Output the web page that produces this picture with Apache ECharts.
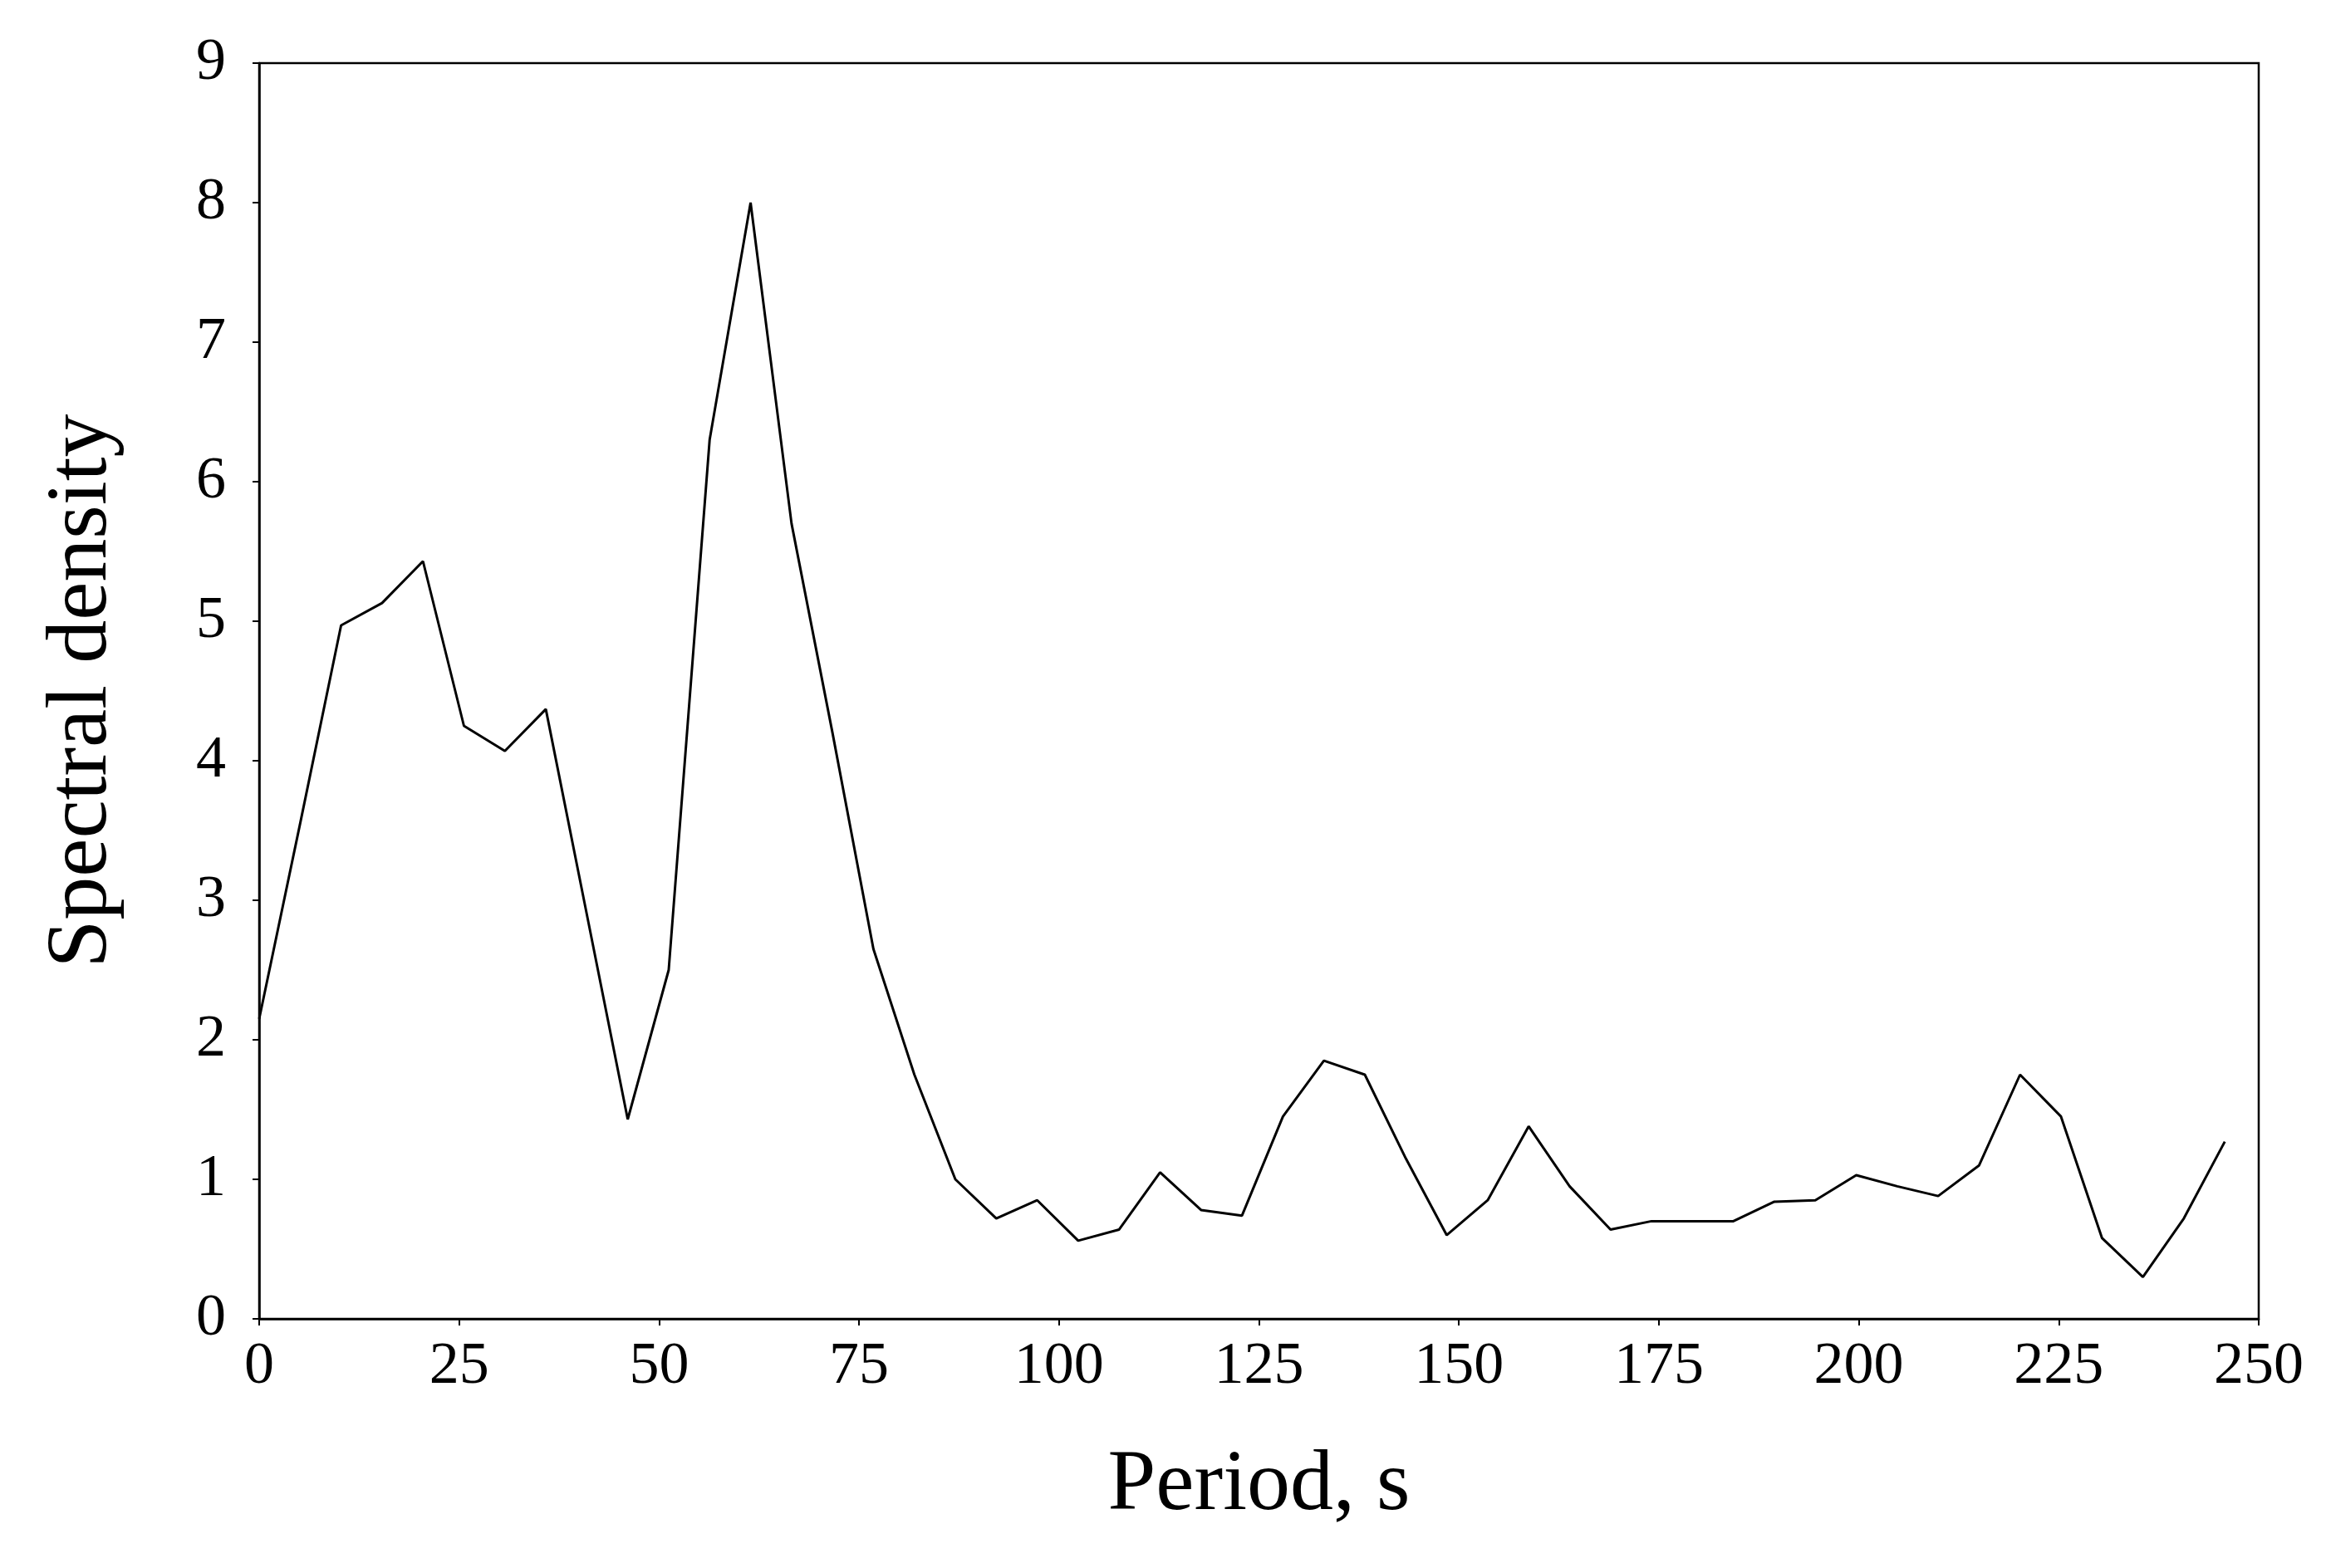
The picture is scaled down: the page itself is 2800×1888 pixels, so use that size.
<!DOCTYPE html>
<html>
<head>
<meta charset="utf-8">
<script src="https://cdn.jsdelivr.net/npm/echarts@6.0.0/dist/echarts.min.js"></script>
<style>html,body{margin:0;background:#fff}#main{width:2800px;height:1888px}</style>
</head>
<body>
<div id="main"></div>
<script>
// 周期步长约 5.12 s
var step = 5.12;
var density = [2.15, 3.55, 4.97, 5.13, 5.43, 4.25, 4.07, 4.37, 2.9, 1.43,
  2.5, 6.3, 8.0, 5.7, 4.2, 2.65, 1.75, 1.0, 0.72, 0.85,
  0.56, 0.64, 1.05, 0.78, 0.74, 1.45, 1.85, 1.75, 1.15, 0.6,
  0.85, 1.38, 0.95, 0.64, 0.7, 0.7, 0.7, 0.84, 0.85, 1.03,
  0.95, 0.88, 1.1, 1.75, 1.45, 0.58, 0.3, 0.72, 1.27];
var points = density.map(function (v, i) { return [i * step, v]; });

var font = 'Liberation Serif';
var chart = echarts.init(document.getElementById('main'));
chart.setOption({
  animation: false,
  backgroundColor: '#fff',
  grid: { left: 312, right: 81, top: 76, bottom: 300, show: true, borderColor: '#000', borderWidth: 2.5 },
  xAxis: {
    type: 'value', min: 0, max: 250, interval: 25,
    name: 'Period, s', nameLocation: 'middle', nameGap: 150,
    nameTextStyle: { fontFamily: font, fontSize: 104, color: '#000' },
    axisLine: { lineStyle: { color: '#000', width: 2.5 } },
    axisTick: { show: true, length: 8, lineStyle: { color: '#000', width: 2 } },
    axisLabel: { fontFamily: font, fontSize: 72, color: '#000', margin: 22 },
    splitLine: { show: false }
  },
  yAxis: {
    type: 'value', min: 0, max: 9, interval: 1,
    name: 'Spectral density', nameLocation: 'middle', nameGap: 160,
    nameTextStyle: { fontFamily: font, fontSize: 104, color: '#000' },
    axisLine: { lineStyle: { color: '#000', width: 2.5 } },
    axisTick: { show: true, length: 8, lineStyle: { color: '#000', width: 2 } },
    axisLabel: { fontFamily: font, fontSize: 72, color: '#000', margin: 40 },
    splitLine: { show: false }
  },
  series: [{
    type: 'line', data: points, showSymbol: false,
    lineStyle: { color: '#000', width: 3 }
  }]
});
</script>
</body>
</html>
